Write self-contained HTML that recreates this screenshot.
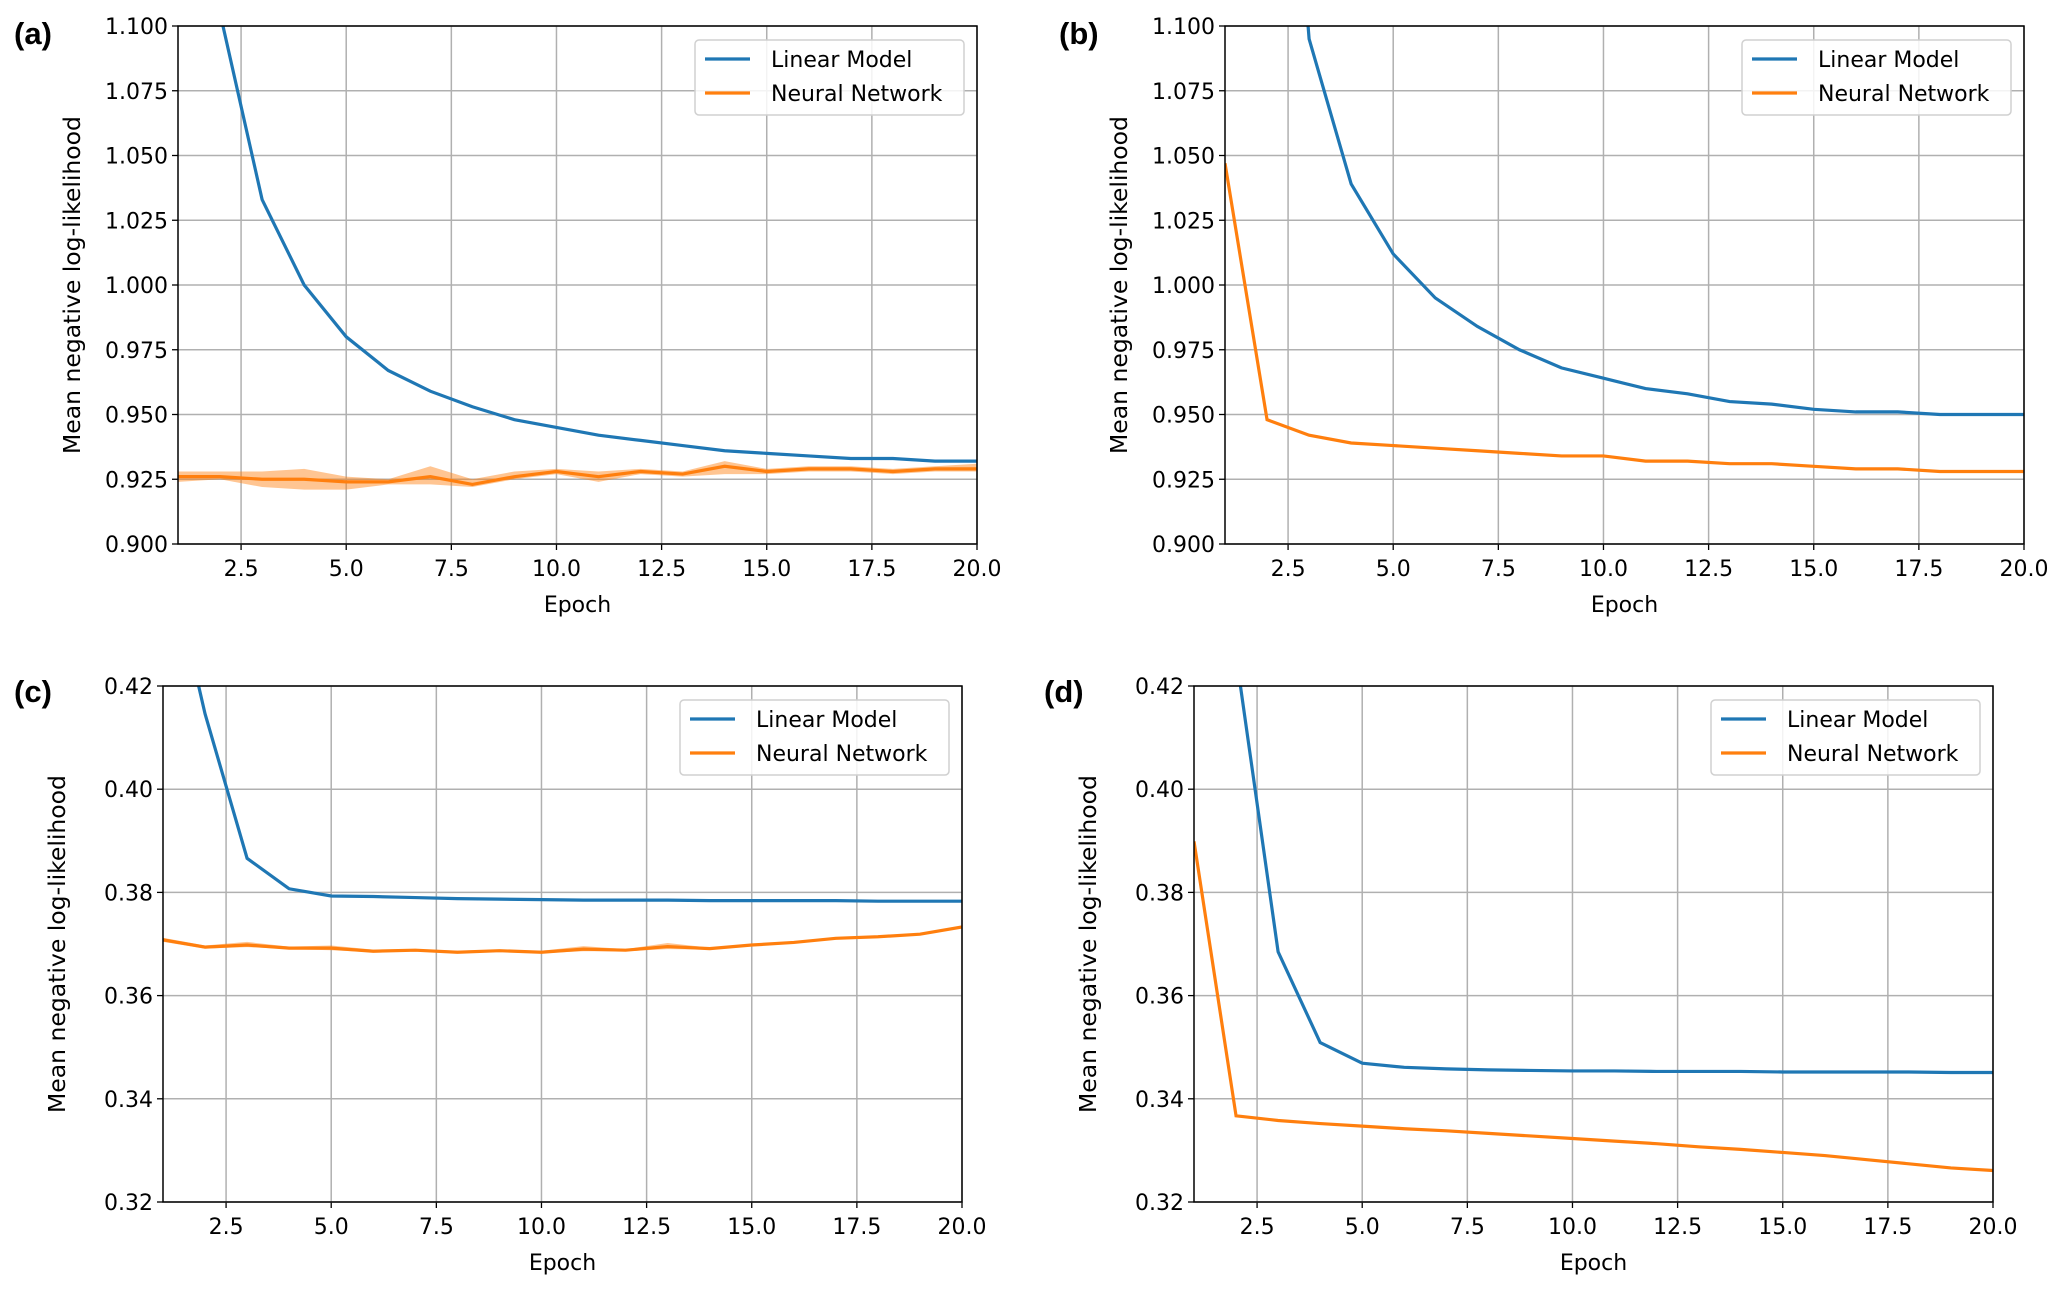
<!DOCTYPE html>
<html><head><meta charset="utf-8"><style>
html,body{margin:0;padding:0;background:#fff}
svg{display:block;font-family:"DejaVu Sans","Liberation Sans",sans-serif}
</style></head><body>
<svg id="fig" width="2067" height="1293" viewBox="0 0 2067 1293" xmlns="http://www.w3.org/2000/svg"></svg>
<script>
const epochs=[1,2,3,4,5,6,7,8,9,10,11,12,13,14,15,16,17,18,19,20];
const xTicks=[2.5,5.0,7.5,10.0,12.5,15.0,17.5,20.0];
const yTicksAB=[0.900,0.925,0.950,0.975,1.000,1.025,1.050,1.075,1.100];
const yTicksCD=[0.32,0.34,0.36,0.38,0.40,0.42];
const linA=[1.25,1.105,1.033,1.000,0.980,0.967,0.959,0.953,0.948,0.945,0.942,0.940,0.938,0.936,0.935,0.934,0.933,0.933,0.932,0.932];
const nnA=[0.926,0.926,0.925,0.925,0.924,0.924,0.926,0.923,0.926,0.928,0.926,0.928,0.927,0.930,0.928,0.929,0.929,0.928,0.929,0.929];
const nnALo=[0.924,0.925,0.922,0.921,0.921,0.923,0.923,0.922,0.925,0.927,0.924,0.927,0.926,0.927,0.927,0.928,0.928,0.927,0.928,0.928];
const nnAHi=[0.928,0.928,0.928,0.929,0.926,0.925,0.930,0.925,0.928,0.929,0.928,0.929,0.928,0.932,0.929,0.930,0.930,0.929,0.930,0.931];
const linB=[1.40,1.30,1.095,1.039,1.012,0.995,0.984,0.975,0.968,0.964,0.960,0.958,0.955,0.954,0.952,0.951,0.951,0.950,0.950,0.950];
const nnB=[1.047,0.948,0.942,0.939,0.938,0.937,0.936,0.935,0.934,0.934,0.932,0.932,0.931,0.931,0.930,0.929,0.929,0.928,0.928,0.928];
const linC=[0.45,0.4146,0.3866,0.3807,0.3793,0.3792,0.3790,0.3788,0.3787,0.3786,0.3785,0.3785,0.3785,0.3784,0.3784,0.3784,0.3784,0.3783,0.3783,0.3783];
const nnC=[0.3708,0.3694,0.3698,0.3692,0.3692,0.3686,0.3688,0.3684,0.3687,0.3684,0.3690,0.3688,0.3695,0.3691,0.3698,0.3703,0.3711,0.3714,0.3719,0.3733];
const nnCLo=[0.3704,0.3691,0.3694,0.3690,0.3688,0.3684,0.3686,0.3682,0.3685,0.3682,0.3686,0.3686,0.3690,0.3689,0.3696,0.3701,0.3709,0.3712,0.3717,0.3731];
const nnCHi=[0.3712,0.3697,0.3704,0.3695,0.3697,0.3689,0.3690,0.3687,0.3689,0.3687,0.3696,0.3690,0.3702,0.3693,0.3700,0.3705,0.3713,0.3716,0.3721,0.3735];
const linD=[0.52,0.426,0.3685,0.3509,0.3469,0.3461,0.3458,0.3456,0.3455,0.3454,0.3454,0.3453,0.3453,0.3453,0.3452,0.3452,0.3452,0.3452,0.3451,0.3451];
const nnD=[0.3899,0.3367,0.3358,0.3352,0.3347,0.3342,0.3338,0.3333,0.3328,0.3323,0.3318,0.3313,0.3307,0.3302,0.3296,0.3290,0.3282,0.3274,0.3266,0.3261];

const NS="http://www.w3.org/2000/svg";
const svg=document.getElementById('fig');
function mk(tag,attrs,parent){const e=document.createElementNS(NS,tag);for(const k in attrs)e.setAttribute(k,attrs[k]);(parent||svg).appendChild(e);return e;}

function panel(id,label,box,yMin,yMax,yTicks,yFmt,lin,nn,lo,hi,labelPos){
  const g=mk('g',{});
  
  
  const X=v=>box.l+(v-1)/19*(box.r-box.l);
  const Y=v=>box.b-(v-yMin)/(yMax-yMin)*(box.b-box.t);
  const cp=mk('clipPath',{id:'clip-'+id},g);
  mk('rect',{x:box.l,y:box.t,width:box.r-box.l,height:box.b-box.t},cp);
  xTicks.forEach(t=>{
    const ln=mk('line',{x1:X(t),x2:X(t),y1:box.t,y2:box.b,stroke:'#b0b0b0','stroke-width':1.5},g);
    
    
    mk('line',{x1:X(t),x2:X(t),y1:box.b,y2:box.b+6,stroke:'#000','stroke-width':1.3},g);
    const tx=mk('text',{x:X(t),y:box.b+32,'text-anchor':'middle','font-size':22,fill:'#000'},g);
    tx.textContent=t.toFixed(1);
    
    
  });
  yTicks.forEach(t=>{
    const ln=mk('line',{x1:box.l,x2:box.r,y1:Y(t),y2:Y(t),stroke:'#b0b0b0','stroke-width':1.5},g);
    
    
    mk('line',{x1:box.l-6,x2:box.l,y1:Y(t),y2:Y(t),stroke:'#000','stroke-width':1.3},g);
    const tx=mk('text',{x:box.l-10,y:Y(t)+8,'text-anchor':'end','font-size':22,fill:'#000'},g);
    tx.textContent=t.toFixed(yFmt);
    
    
  });
  const pg=mk('g',{'clip-path':'url(#clip-'+id+')'},g);
  if(lo){
    let d='M'+epochs.map((e,i)=>X(e)+','+Y(hi[i])).join('L')+'L'+epochs.slice().reverse().map((e,j)=>{const i=19-j;return X(e)+','+Y(lo[i]);}).join('L')+'Z';
    const band=mk('path',{d:d,fill:'#ff7f0e','fill-opacity':0.45,stroke:'none'},pg);
    
    
  }
  const l1=mk('polyline',{points:epochs.map((e,i)=>X(e)+','+Y(lin[i])).join(' '),fill:'none',stroke:'#1f77b4','stroke-width':3.2},pg);
  
  
  const l2=mk('polyline',{points:epochs.map((e,i)=>X(e)+','+Y(nn[i])).join(' '),fill:'none',stroke:'#ff7f0e','stroke-width':3.2},pg);
  
  
  const fr=mk('rect',{x:box.l,y:box.t,width:box.r-box.l,height:box.b-box.t,fill:'none',stroke:'#000','stroke-width':1.5},g);
  
  
  const lg=mk('g',{},g);
  
  
  const lx=box.r-282, ly=box.t+14;
  mk('rect',{x:lx,y:ly,width:269,height:75,rx:4,fill:'#fff','fill-opacity':0.85,stroke:'#d0d0d0','stroke-width':1.5},lg);
  [['Linear Model','#1f77b4',27],['Neural Network','#ff7f0e',61]].forEach(([n,c,dy])=>{
    const e=mk('g',{},lg);
    
    
    mk('line',{x1:lx+10,x2:lx+55,y1:ly+dy-8,y2:ly+dy-8,stroke:c,'stroke-width':3.2},e);
    const t=mk('text',{x:lx+76,y:ly+dy,'font-size':22,fill:'#000'},e);
    t.textContent=n;
  });
  const xl=mk('text',{x:(box.l+box.r)/2,y:box.b+68,'text-anchor':'middle','font-size':22,fill:'#000'},g);
  xl.textContent='Epoch';
  
  
  const yx=box.l-98, yy=(box.t+box.b)/2;
  const yl=mk('text',{x:yx,y:yy,'text-anchor':'middle','font-size':23.5,fill:'#000',transform:'rotate(-90 '+yx+' '+yy+')'},g);
  yl.textContent='Mean negative log-likelihood';
  
  
  const pl=mk('text',{x:labelPos[0],y:labelPos[1],'font-size':31,'font-weight':'bold','font-family':'"Liberation Sans",sans-serif',fill:'#000'},g);
  pl.textContent=label;
  
  
}
panel('a','(a)',{l:178,r:977,t:26,b:544},0.9,1.1,yTicksAB,3,linA,nnA,nnALo,nnAHi,[14,44]);
panel('b','(b)',{l:1225,r:2024,t:26,b:544},0.9,1.1,yTicksAB,3,linB,nnB,null,null,[1059,44]);
panel('c','(c)',{l:163,r:962,t:686,b:1202},0.32,0.42,yTicksCD,2,linC,nnC,nnCLo,nnCHi,[14,702]);
panel('d','(d)',{l:1194,r:1993,t:686,b:1202},0.32,0.42,yTicksCD,2,linD,nnD,null,null,[1044,702]);
</script>
</body></html>
